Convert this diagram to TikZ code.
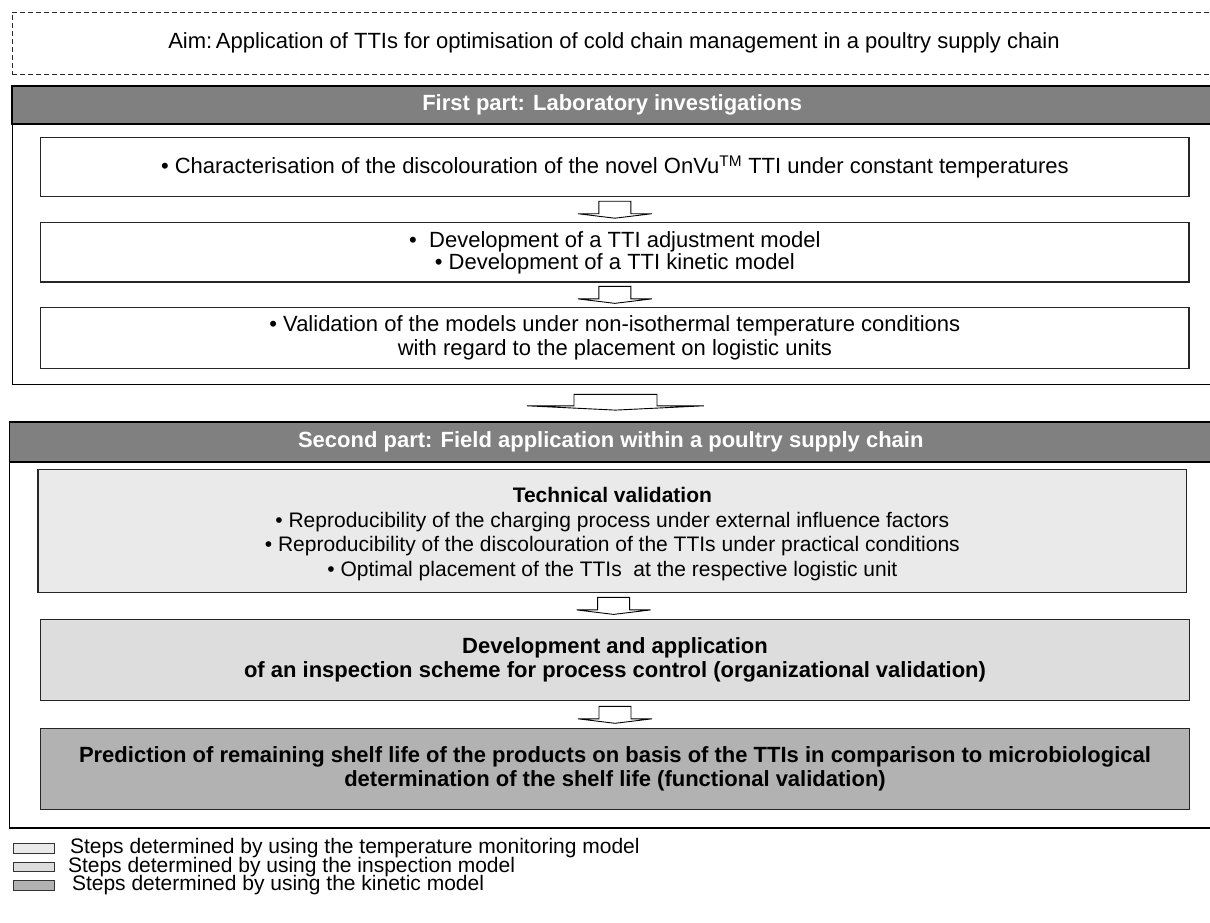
\documentclass[tikz,border=0pt]{standalone}
\usepackage{fontspec}
\setmainfont{Liberation Sans}
\usetikzlibrary{calc}

\definecolor{hdrgray}{RGB}{128,128,128}
\definecolor{techfill}{RGB}{234,234,234}
\definecolor{devfill}{RGB}{221,221,221}
\definecolor{predfill}{RGB}{178,178,178}

\begin{document}
\begin{tikzpicture}[x=1pt,y=-1pt,
  every node/.style={font=\fontsize{22}{24}\selectfont, inner sep=0pt, outer sep=0pt},
  section/.style={draw=black, line width=1.1pt},
  aimbox/.style={draw=black!85, line width=0.9pt, dash pattern=on 5pt off 3pt},
  header/.style={draw=black, line width=1.7pt, fill=hdrgray, text=white,
                 font=\fontsize{22}{24}\selectfont\bfseries},
  stepbox/.style={draw=black!85, line width=1.1pt, align=center},
  boldbox/.style={stepbox, font=\fontsize{22}{24}\selectfont\bfseries},
  arrowline/.style={draw=black, line width=0.9pt, fill=white},
  legendbox/.style={draw=black!80, line width=1pt, minimum width=41pt, minimum height=9.5pt},
  legendtext/.style={anchor=west, font=\fontsize{21}{23}\selectfont},
  pics/blockarrow/.style args={#1/#2/#3/#4}{% stem half width / head half width / stem height / head depth
    code={
      \pgfmathsetmacro\arrowhalf{(#3+#4)/2}
      \path[arrowline] (-#1,-\arrowhalf) -- (#1,-\arrowhalf) -- (#1,-\arrowhalf+#3)
        -- (#2,-\arrowhalf+#3) -- (0,\arrowhalf) -- (-#2,-\arrowhalf+#3)
        -- (-#1,-\arrowhalf+#3) -- cycle;
    }}
]
\useasboundingbox (0,0) rectangle (1210,922);

% aim of the study
\node[aimbox, minimum width=1199.7pt, minimum height=61.7pt] (aim) at (612.15,43.15) {};
\node (aimtext) at (614,43) {Aim:\,Application of TTIs for optimisation of cold chain management in a poultry supply chain};

% first part: laboratory investigations
\node[section, minimum width=1199.7pt, minimum height=298.5pt] (sec1) at (612.15,235.25) {};
\node[header, minimum width=1199.7pt, minimum height=38.3pt] (hdr1) at (612.15,105.15)
  {First part: Laboratory investigations};

\node[stepbox, minimum width=1148.3pt, minimum height=59.4pt] (b1) at (614.85,167)
  {\textbullet\ Characterisation of the discolouration of the novel OnVu\textsuperscript{TM} TTI under constant temperatures};
\node[stepbox, minimum width=1148.3pt, minimum height=59.3pt, font=\fontsize{22}{22}\selectfont] (b2) at (614.85,252.35)
  {\textbullet\ \ Development of a TTI adjustment model\\ \textbullet\ Development of a TTI kinetic model};
\node[stepbox, minimum width=1148.3pt, minimum height=60.6pt] (b3) at (614.85,338)
  {\textbullet\ Validation of the models under non-isothermal temperature conditions\\ with regard to the placement on logistic units};

% second part: field application
\node[section, minimum width=1202.5pt, minimum height=406pt] (sec2) at (610.75,625) {};
\node[header, minimum width=1202.5pt, minimum height=39.7pt] (hdr2) at (610.75,441.85)
  {Second part: Field application within a poultry supply chain};

\node[stepbox, fill=techfill, minimum width=1148.7pt, minimum height=122.8pt] (tech) at (612.35,530.9) {};
\node[align=center, font=\fontsize{21}{24.5}\selectfont] (techtext) at ($(tech.center)+(0,3)$)
  {\textbf{Technical validation}\\
   \textbullet\ Reproducibility of the charging process under external influence factors\\
   \textbullet\ Reproducibility of the discolouration of the TTIs under practical conditions\\
   \textbullet\ Optimal placement of the TTIs\ \ at the respective logistic unit};
\node[boldbox, fill=devfill, minimum width=1148.6pt, minimum height=81.2pt] (dev) at (615,660.1)
  {Development and application\\ of an inspection scheme for process control (organizational validation)};
\node[boldbox, fill=predfill, minimum width=1148.6pt, minimum height=80.4pt] (pred) at (615,769.1)
  {Prediction of remaining shelf life of the products on basis of the TTIs in comparison to microbiological\\ determination of the shelf life (functional validation)};

% block arrows between the steps
\coordinate (a1) at ($(b1.south)!0.5!(b2.north)$);
\coordinate (a2) at ($(b2.south)!0.5!(b3.north)$);
\coordinate (a0) at ($(sec1.south)!0.5!(sec2.north)+(4,-1)$);
\coordinate (a3) at ($(tech.south)!0.5!(dev.north)$);
\coordinate (a4) at ($(dev.south)!0.5!(pred.north)$);
\pic at (a1) {blockarrow=16/37/12.5/4.5};
\pic at (a2) {blockarrow=16/37/12.5/4.5};
\pic at (a0) {blockarrow=41.5/88.5/11.4/4.3};
\pic at (a3) {blockarrow=16/37/12.5/4.5};
\pic at (a4) {blockarrow=16/37/12.5/4.5};

% legend
\node[legendbox, fill=techfill] (l1) at (33.5,848.5) {};
\node[legendbox, fill=devfill]  (l2) at (33.5,867) {};
\node[legendbox, fill=predfill] (l3) at (33.5,885.5) {};
\node[legendtext] (t1) at (70,848.5) {Steps determined by using the temperature monitoring model};
\node[legendtext] (t2) at (68,867) {Steps determined by using the inspection model};
\node[legendtext] (t3) at (72,885.5) {Steps determined by using the kinetic model};
\end{tikzpicture}
\end{document}
